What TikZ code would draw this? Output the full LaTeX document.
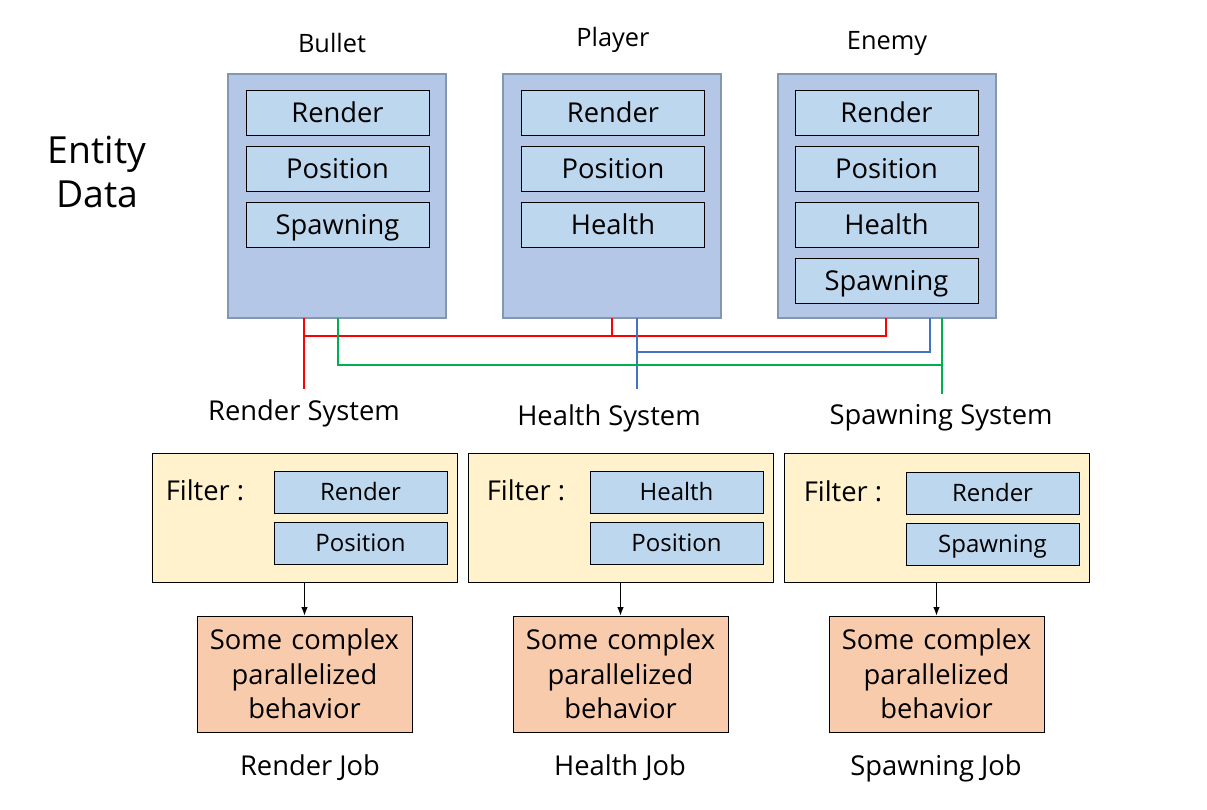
\documentclass[tikz,border=0pt]{standalone}
\usepackage{fontspec}
\setmainfont{Open Sans}
\usepackage{tikz}
\usetikzlibrary{arrows.meta, positioning, calc}
\definecolor{entityFill}{HTML}{B4C7E7}
\definecolor{entityLine}{HTML}{8497B0}
\definecolor{compFill}{HTML}{BDD7EE}
\definecolor{systemFill}{HTML}{FFF2CC}
\definecolor{jobFill}{HTML}{F8CBAD}
\definecolor{wireRed}{HTML}{FF0000}
\definecolor{wireBlue}{HTML}{4472C4}
\definecolor{wireGreen}{HTML}{00B050}
\newcommand{\fsz}[1]{\fontsize{#1}{1.3\dimexpr#1pt\relax}\selectfont}
\tikzset{
    every node/.style={font=\fsz{20.5}, inner sep=0pt},
    every path/.style={line cap=rect, line join=miter},
    >={Latex[length=2.2mm, width=1.7mm]},
    entity/.style={draw=entityLine, fill=entityFill, line width=1.5pt, minimum width=163.5pt, minimum height=183pt},
    comp/.style={draw=black, fill=compFill, line width=0.75pt, minimum width=137.25pt, minimum height=33.75pt, text height=14.6pt, text depth=0pt},
    systembox/.style={draw=black, fill=systemFill, line width=0.75pt, minimum width=228.75pt, minimum height=96.75pt},
    filterbox/.style={comp, minimum width=129.75pt, minimum height=31.5pt, font=\fsz{18}, text height=12.8pt},
    jobbox/.style={draw=black, fill=jobFill, line width=0.75pt, minimum width=161.25pt, minimum height=87pt, text width=155pt, align=center, font=\fontsize{20.5}{26}\selectfont},
    wire/.style={line width=1.5pt}
}

\begin{document}
\begin{tikzpicture}[x=0.75pt, y=-0.75pt]
    \useasboundingbox (0,0) rectangle (1207,810);

    % entity data
    \node [align=center, font=\fontsize{28}{33}\selectfont] (entitydata) at (97,172) {Entity\\Data};

    \node [entity] (bullet) at (337,196) {};
    \node [entity] (player) at (612,196) {};
    \node [entity] (enemy) at (887,196) {};
    \node [font=\fsz{19}] (bulletlabel) at (332,43) {Bullet};
    \node [font=\fsz{19}] (playerlabel) at (613,40) {Player};
    \node [font=\fsz{19}] (enemylabel) at (887,43) {Enemy};

    \node [comp] (bRender) at (337.5,112.5) {Render};
    \node [comp, below=7.5pt of bRender] (bPosition) {Position};
    \node [comp, below=7.5pt of bPosition] (bSpawning) {Spawning};

    \node [comp] (pRender) at (613,112.5) {Render};
    \node [comp, below=7.5pt of pRender] (pPosition) {Position};
    \node [comp, below=7.5pt of pPosition] (pHealth) {Health};

    \node [comp] (eRender) at (886.5,112.5) {Render};
    \node [comp, below=7.5pt of eRender] (ePosition) {Position};
    \node [comp, below=7.5pt of ePosition] (eHealth) {Health};
    \node [comp, below=7.5pt of eHealth] (eSpawning) {Spawning};

    % component wires
    \coordinate (renderEnd) at (304,388);
    \coordinate (healthEnd) at (637,388);
    \coordinate (spawnEnd) at (942,393);
    \coordinate (redBus) at (886,336);
    \coordinate (blueBus) at (930,352);
    \coordinate (greenBus) at (338,365);

    \draw [wire, wireRed] (renderEnd |- bullet.south) -- (renderEnd);
    \draw [wire, wireRed] (renderEnd |- redBus) -- (redBus) -- (redBus |- enemy.south);
    \draw [wire, wireRed] (player.south) -- (player.south |- redBus);
    \draw [wire, wireBlue] (healthEnd |- player.south) -- (healthEnd);
    \draw [wire, wireBlue] (healthEnd |- blueBus) -- (blueBus) -- (blueBus |- enemy.south);
    \draw [wire, wireGreen] (greenBus |- bullet.south) -- (greenBus) -- (greenBus -| spawnEnd);
    \draw [wire, wireGreen] (spawnEnd |- enemy.south) -- (spawnEnd);

    % systems
    \node (renderSys) at (304,413) {Render System};
    \node (healthSys) at (609,418) {Health System};
    \node (spawnSys) at (941,418) {Spawning System};

    \node [systembox] (renderBox) at (304.5,517.5) {};
    \node [systembox] (healthBox) at (620.5,517.5) {};
    \node [systembox] (spawnBox) at (936.5,517.5) {};

    \node (renderFilter) at (205,490) {Filter :};
    \node [filterbox] (rfRender) at (360.5,492) {Render};
    \node [filterbox, below=6pt of rfRender] (rfPosition) {Position};

    \node (healthFilter) at (526,490) {Filter :};
    \node [filterbox] (hfHealth) at (676.5,492) {Health};
    \node [filterbox, below=6pt of hfHealth] (hfPosition) {Position};

    \node (spawnFilter) at (843,491) {Filter :};
    \node [filterbox] (sfRender) at (992.5,493) {Render};
    \node [filterbox, below=6pt of sfRender] (sfSpawning) {Spawning};

    % jobs
    \node [jobbox] (renderJob) at (304.5,674) {Some complex\\parallelized\\behavior};
    \node [jobbox] (healthJob) at (620.5,674) {Some complex\\parallelized\\behavior};
    \node [jobbox] (spawnJob) at (936.5,674) {Some complex\\parallelized\\behavior};

    \draw [->, line width=0.75pt] (renderBox.south) -- (renderJob.north);
    \draw [->, line width=0.75pt] (healthBox.south) -- (healthJob.north);
    \draw [->, line width=0.75pt] (spawnBox.south) -- (spawnJob.north);

    \node (renderJobLabel) at (310,768) {Render Job};
    \node (healthJobLabel) at (620,768) {Health Job};
    \node (spawnJobLabel) at (936,768) {Spawning Job};
\end{tikzpicture}
\end{document}
